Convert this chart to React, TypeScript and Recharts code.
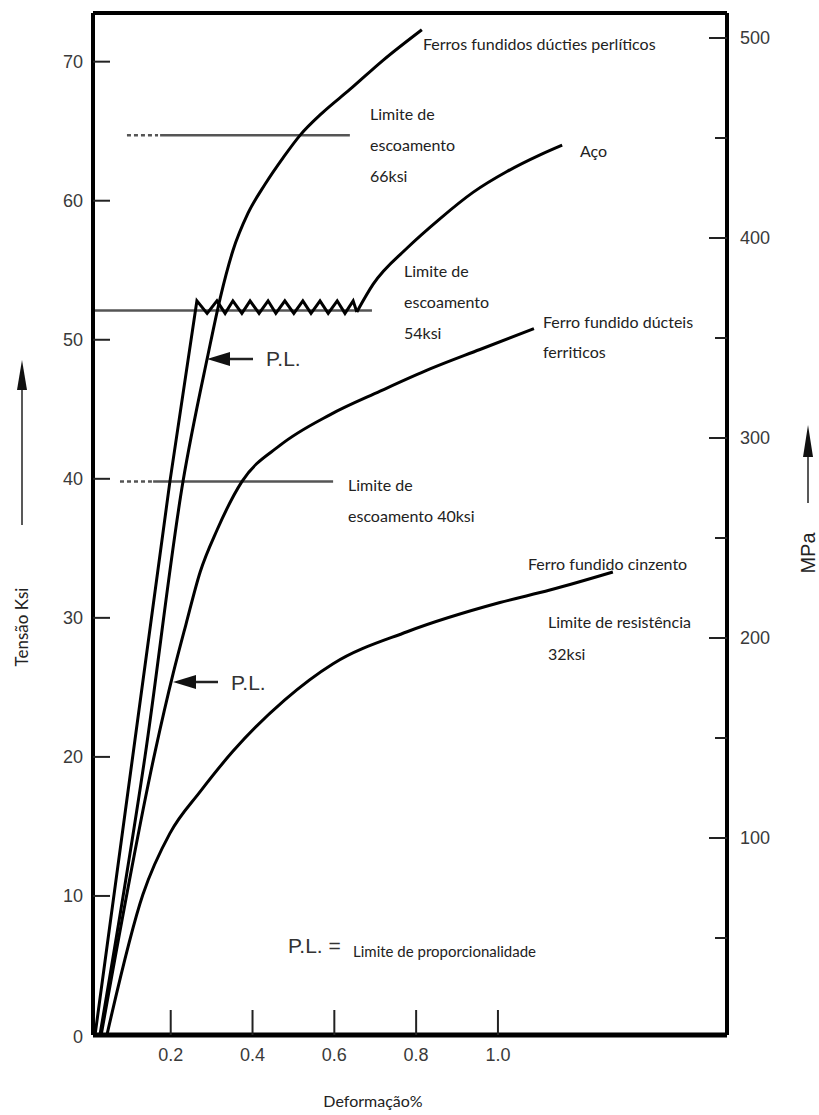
import React from "react";
import { LineChart, Line, XAxis, YAxis, ReferenceLine } from "recharts";

type Pt = { x: number; y: number };

// axis ticks
const strainTicks = [0.2, 0.4, 0.6, 0.8, 1.0];
const ksiTicks = [0, 10, 20, 30, 40, 50, 60, 70];
const mpaTicks = [50, 100, 150, 200, 250, 300, 350, 400, 450, 500];

// aço: trecho elástico + patamar serrilhado
const steelElastic: Pt[] = [
  { x: 0.015, y: 0 }, { x: 0.198, y: 39.8 }, { x: 0.264, y: 52.8 }, { x: 0.289, y: 51.9 },
  { x: 0.313, y: 52.8 }, { x: 0.333, y: 51.9 }, { x: 0.352, y: 52.8 }, { x: 0.374, y: 51.9 },
  { x: 0.394, y: 52.8 }, { x: 0.416, y: 51.9 }, { x: 0.438, y: 52.8 }, { x: 0.457, y: 51.9 },
  { x: 0.479, y: 52.8 }, { x: 0.501, y: 51.9 }, { x: 0.523, y: 52.8 }, { x: 0.543, y: 51.9 },
  { x: 0.565, y: 52.8 }, { x: 0.585, y: 51.9 }, { x: 0.607, y: 52.8 }, { x: 0.626, y: 51.9 },
  { x: 0.646, y: 52.8 }, { x: 0.655, y: 52.0 },
];
// aço: encruamento
const steelHardening: Pt[] = [
  { x: 0.655, y: 52.0 }, { x: 0.695, y: 54.0 }, { x: 0.778, y: 56.6 }, { x: 0.858, y: 58.7 },
  { x: 0.939, y: 60.6 }, { x: 1.022, y: 62.1 }, { x: 1.103, y: 63.3 }, { x: 1.157, y: 64.0 },
];
const pearlitic: Pt[] = [
  { x: 0.027, y: 0 }, { x: 0.137, y: 20.0 }, { x: 0.23, y: 39.8 }, { x: 0.291, y: 48.9 },
  { x: 0.321, y: 53.0 }, { x: 0.352, y: 56.4 }, { x: 0.389, y: 59.1 }, { x: 0.431, y: 61.2 },
  { x: 0.475, y: 63.1 }, { x: 0.516, y: 64.7 }, { x: 0.57, y: 66.3 }, { x: 0.638, y: 68.0 },
  { x: 0.719, y: 70.1 }, { x: 0.814, y: 72.3 },
];
const ferritic: Pt[] = [
  { x: 0.03, y: 0 }, { x: 0.162, y: 20.4 }, { x: 0.206, y: 26.0 }, { x: 0.237, y: 29.5 },
  { x: 0.272, y: 33.3 }, { x: 0.313, y: 36.3 }, { x: 0.374, y: 39.8 }, { x: 0.467, y: 42.4 },
  { x: 0.589, y: 44.6 }, { x: 0.712, y: 46.3 }, { x: 0.834, y: 47.9 }, { x: 0.956, y: 49.3 },
  { x: 1.088, y: 50.8 },
];
const grayIron: Pt[] = [
  { x: 0.044, y: 0 }, { x: 0.132, y: 10.1 }, { x: 0.198, y: 14.5 },
  { x: 0.272, y: 17.5 }, { x: 0.352, y: 20.4 }, { x: 0.479, y: 24.1 }, { x: 0.597, y: 26.7 },
  { x: 0.778, y: 29.0 }, { x: 1.005, y: 31.1 }, { x: 1.127, y: 32.0 }, { x: 1.281, y: 33.3 },
];

// limites de escoamento (linhas horizontais)
const yield66: Pt[] = [{ x: 0.174, y: 64.7 }, { x: 0.638, y: 64.7 }];
const yield66Dots: Pt[] = [{ x: 0.093, y: 64.7 }, { x: 0.169, y: 64.7 }];
const yield54: Pt[] = [{ x: 0.01, y: 52.1 }, { x: 0.692, y: 52.1 }];
const yield40: Pt[] = [{ x: 0.157, y: 39.8 }, { x: 0.597, y: 39.8 }];
const yield40Dots: Pt[] = [{ x: 0.076, y: 39.8 }, { x: 0.154, y: 39.8 }];

const tickFont = { fontFamily: "'Liberation Sans', Arial, sans-serif", fontSize: 18, fill: "#3a3a3a" };
const noteFont = { fontFamily: "Lato, 'Open Sans', sans-serif", fontSize: 16, fill: "#222" };
const plFont = { fontFamily: "'Liberation Sans', Arial, sans-serif", fontSize: 21, fill: "#333" };

function KsiTick({ x, y, payload }: any) {
  const v = payload.value;
  return (
    <g>
      {v !== 0 && <line x1={x} x2={x + 17} y1={y} y2={y} stroke="#222" strokeWidth={2} />}
      <text x={x - 10} y={y + (v === 0 ? 2 : 0)} dy="0.36em" textAnchor="end" {...tickFont}>
        {v}
      </text>
    </g>
  );
}

function MpaTick({ x, y, payload }: any) {
  const major = payload.value % 100 === 0;
  return (
    <g>
      <line x1={x - (major ? 18 : 12)} x2={x} y1={y} y2={y} stroke="#222" strokeWidth={2} />
      {major && (
        <text x={x + 13} y={y} dy="0.36em" textAnchor="start" {...tickFont}>
          {payload.value}
        </text>
      )}
    </g>
  );
}

function StrainTick({ x, y, payload }: any) {
  return (
    <g>
      <line x1={x} x2={x} y1={y} y2={y - 25} stroke="#222" strokeWidth={2} />
      <text x={x} y={y + 20} dy="0.36em" textAnchor="middle" {...tickFont}>
        {Number(payload.value).toFixed(1)}
      </text>
    </g>
  );
}

function curve(data: Pt[], key: string, type: "linear" | "monotone" = "monotone") {
  return (
    <Line
      key={key}
      data={data}
      dataKey="y"
      yAxisId="ksi"
      type={type}
      stroke="#000"
      strokeWidth={3}
      dot={false}
      activeDot={false}
      isAnimationActive={false}
    />
  );
}

function hline(data: Pt[], key: string, dashed = false) {
  return (
    <Line
      key={key}
      data={data}
      dataKey="y"
      yAxisId="ksi"
      type="linear"
      stroke="#555"
      strokeWidth={2.5}
      strokeDasharray={dashed ? "4 3" : undefined}
      dot={false}
      activeDot={false}
      isAnimationActive={false}
    />
  );
}

export default function App() {
  return (
    <div style={{ position: "absolute", left: 0, top: 0, width: 819, height: 1115, background: "#fff" }}>
      <LineChart width={819} height={1115} margin={{ top: 13, right: 0, bottom: 0, left: 0 }}>
        <XAxis
          dataKey="x"
          type="number"
          domain={[0.01, 1.56]}
          ticks={strainTicks}
          allowDataOverflow
          height={80}
          tickSize={0}
          tickMargin={0}
          tick={<StrainTick />}
          axisLine={{ stroke: "#000", strokeWidth: 5 }}
          tickLine={false}
        />
        <YAxis
          yAxisId="ksi"
          type="number"
          domain={[0, 73.5]}
          ticks={ksiTicks}
          allowDataOverflow
          width={93}
          tickSize={0}
          tickMargin={0}
          tick={<KsiTick />}
          axisLine={{ stroke: "#000", strokeWidth: 4 }}
          tickLine={false}
        />
        <YAxis
          yAxisId="mpa"
          orientation="right"
          type="number"
          domain={[1.5, 512.5]}
          ticks={mpaTicks}
          allowDataOverflow
          width={92}
          tickSize={0}
          tickMargin={0}
          tick={<MpaTick />}
          axisLine={{ stroke: "#000", strokeWidth: 4 }}
          tickLine={false}
        />
        <ReferenceLine yAxisId="ksi" y={73.5} stroke="#000" strokeWidth={4} />
        {hline(yield66, "y66")}
        {hline(yield66Dots, "y66d", true)}
        {hline(yield54, "y54")}
        {hline(yield40, "y40")}
        {hline(yield40Dots, "y40d", true)}
        {curve(steelElastic, "steelA", "linear")}
        {curve(steelHardening, "steelB")}
        {curve(pearlitic, "pearl")}
        {curve(ferritic, "ferr")}
        {curve(grayIron, "gray")}
      </LineChart>

      <svg width={819} height={1115} style={{ position: "absolute", left: 0, top: 0, pointerEvents: "none" }}>
        <g {...noteFont}>
          <text x={423} y={50}>Ferros fundidos dúcties perlíticos</text>
          <text x={370} y={120}>Limite de</text>
          <text x={370} y={151}>escoamento</text>
          <text x={370} y={182}>66ksi</text>
          <text x={580} y={157}>Aço</text>
          <text x={404} y={277}>Limite de</text>
          <text x={404} y={308}>escoamento</text>
          <text x={404} y={339}>54ksi</text>
          <text x={543} y={328}>Ferro fundido dúcteis</text>
          <text x={543} y={358}>ferriticos</text>
          <text x={348} y={491}>Limite de</text>
          <text x={348} y={522}>escoamento 40ksi</text>
          <text x={528} y={570}>Ferro fundido cinzento</text>
          <text x={548} y={628}>Limite de resistência</text>
          <text x={548} y={660}>32ksi</text>
          <text x={353} y={957} fontSize={15}>Limite de proporcionalidade</text>
          <text x={373} y={1107} textAnchor="middle">Deformação%</text>
          <text transform="translate(28,627) rotate(-90)" textAnchor="middle" fontSize={17}>Tensão Ksi</text>
        </g>

        <g {...plFont}>
          <text x={266} y={366}>P.L.</text>
          <text x={231} y={690}>P.L.</text>
          <text x={288} y={953}>P.L. =</text>
          <text transform="translate(815,553) rotate(-90)" textAnchor="middle" fontSize={20} fill="#222">MPa</text>
        </g>

        {/* setas P.L. */}
        <line x1={226} x2={253} y1={359} y2={359} stroke="#222" strokeWidth={2.5} />
        <polygon points="207,359 230,352 230,366" fill="#111" />
        <line x1={193} x2={218} y1={682} y2={682} stroke="#222" strokeWidth={2.5} />
        <polygon points="173,682 196,675 196,689" fill="#111" />

        {/* setas dos eixos */}
        <line x1={22} x2={22} y1={525} y2={385} stroke="#222" strokeWidth={1.5} />
        <polygon points="22,360 17,390 27,390" fill="#111" />
        <line x1={808} x2={808} y1={503} y2={450} stroke="#222" strokeWidth={1.5} />
        <polygon points="808,425 803,457 813,457" fill="#111" />
      </svg>
    </div>
  );
}
